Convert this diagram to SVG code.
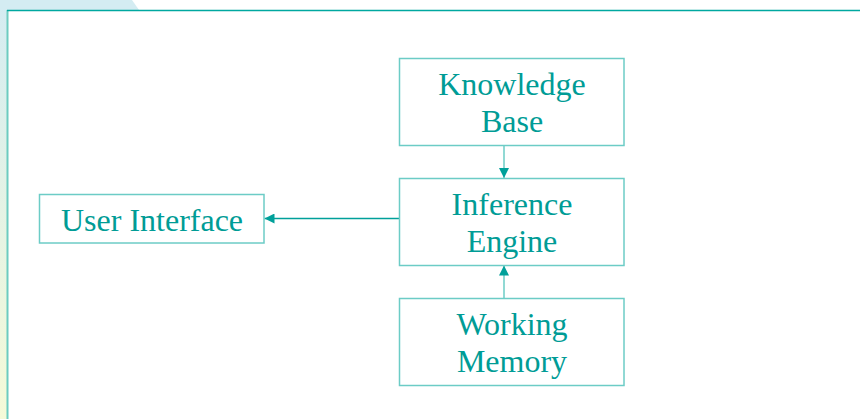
<svg xmlns="http://www.w3.org/2000/svg" width="860" height="419" viewBox="0 0 860 419">
<defs>
<linearGradient id="lg" x1="0" y1="0" x2="0" y2="1">
<stop offset="0" stop-color="#D4ECF2"/>
<stop offset="1" stop-color="#F5FAD8"/>
</linearGradient>
<marker id="ah" viewBox="0 0 10 10" refX="10" refY="5" markerWidth="10" markerHeight="10" markerUnits="userSpaceOnUse" orient="auto">
<path d="M0,0 L10,5 L0,10 Z" fill="#00A09A"/>
</marker>
<style>
.box{fill:#FFFFFF;stroke:#6CCCC6;stroke-width:1.5}
.t{font-family:"Liberation Serif","Times New Roman",serif;font-size:32px;fill:#009C96;text-anchor:middle}
.c{stroke:#00A09A;stroke-width:1.5;fill:none}
.cl{stroke:#6CCCC6;stroke-width:1.5;fill:none}
</style>
</defs>
<rect x="0" y="0" width="860" height="419" fill="#FFFFFF"/>
<rect x="0" y="0" width="8" height="419" fill="url(#lg)"/>
<path d="M0,0 L132,0 L139,10 L0,10 Z" fill="#D4ECF2"/>
<line x1="7.5" y1="10" x2="7.5" y2="419" stroke="#6CCCC0" stroke-width="2"/>
<line x1="7" y1="10.5" x2="860" y2="10.5" stroke="#00A8A0" stroke-width="1.5"/>
<g id="connectors">
<line class="cl" x1="504" y1="145.5" x2="504" y2="178" marker-end="url(#ah)"/>
<line class="cl" x1="504" y1="298" x2="504" y2="265.5" marker-end="url(#ah)"/>
<line class="c" x1="399.5" y1="218.5" x2="264.5" y2="218.5" marker-end="url(#ah)"/>
</g>
<g id="knowledge-base">
<rect class="box" x="399.5" y="58.5" width="224.5" height="87"/>
<text class="t" x="512" y="95">Knowledge</text>
<text class="t" x="512" y="132">Base</text>
</g>
<g id="inference-engine">
<rect class="box" x="399.5" y="178.5" width="224.5" height="87"/>
<text class="t" x="512" y="215">Inference</text>
<text class="t" x="512" y="252">Engine</text>
</g>
<g id="working-memory">
<rect class="box" x="399.5" y="298.5" width="224.5" height="87"/>
<text class="t" x="512" y="335">Working</text>
<text class="t" x="512" y="372">Memory</text>
</g>
<g id="user-interface">
<rect class="box" x="39.5" y="194.5" width="224.5" height="48.5"/>
<text class="t" x="152" y="230.5">User Interface</text>
</g>
</svg>
